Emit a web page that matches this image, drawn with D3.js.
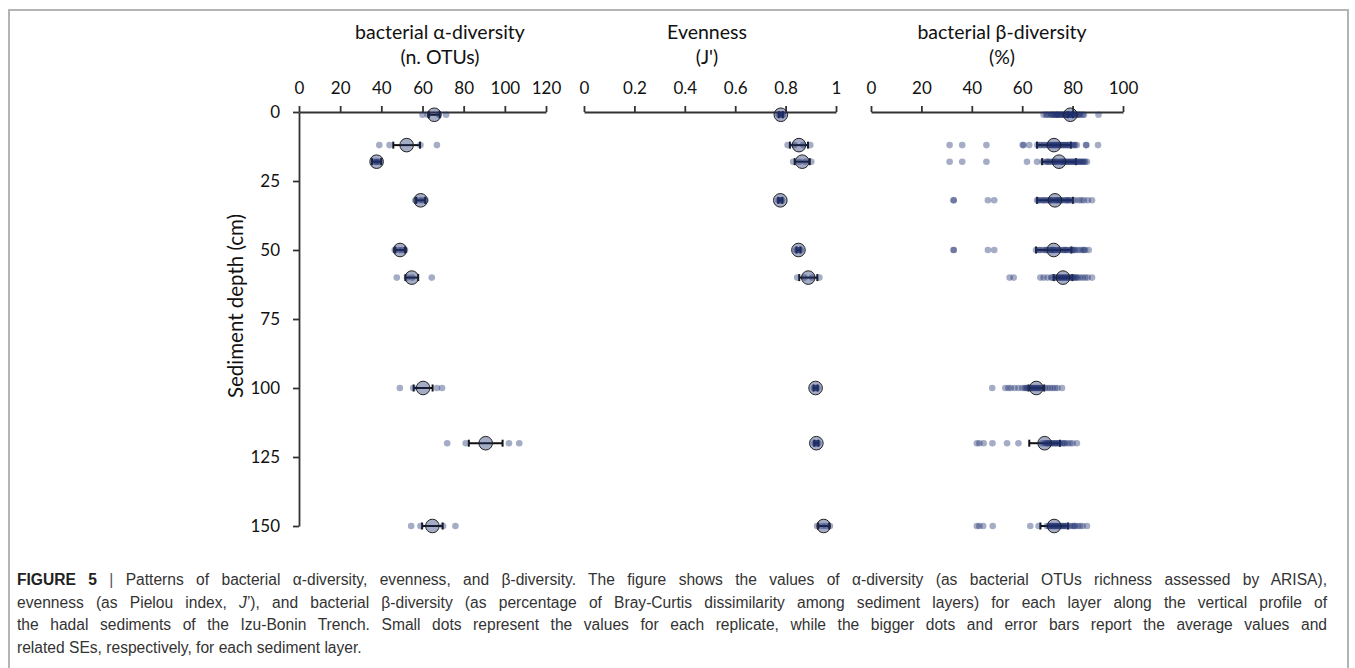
<!DOCTYPE html>
<html>
<head>
<meta charset="utf-8">
<script src="https://cdn.jsdelivr.net/npm/d3@7"></script>
<style>
  body { margin: 0; background: #fff; }
  svg { display: block; }
</style>
</head>
<body>
<div id="chart"></div>
<script>
// sediment layers (cm) and y ticks
const depths = [1, 12, 18, 32, 50, 60, 100, 120, 150];
const depthTicks = [0, 25, 50, 75, 100, 125, 150];

// bacterial alpha-diversity (n. OTUs)
const alphaTicks = [0, 20, 40, 60, 80, 100, 120];
const alphaMean = [65.7, 52.3, 37.7, 59.1, 49.1, 54.8, 60.3, 90.7, 64.8];
const alphaSE = [2.6, 6.5, 2.2, 2.2, 2.4, 3.1, 4.6, 8.2, 5.0];
const alphaReps = [
  [60, 62.5, 68, 71.5],
  [39, 44, 59, 67],
  [36.5, 37.5, 38, 39],
  [56.5, 58.5, 60, 61.5],
  [46.5, 48.5, 50, 51.5],
  [47.5, 52.5, 55, 64.5],
  [49, 55.5, 67, 69.5],
  [72, 81, 102, 107],
  [54.5, 59, 70, 76]
];

// evenness (J')
const evenTicks = [0, 0.2, 0.4, 0.6, 0.8, 1];
const evenMean = [0.781, 0.853, 0.866, 0.779, 0.851, 0.890, 0.919, 0.922, 0.951];
const evenSE = [0.008, 0.036, 0.03, 0.008, 0.008, 0.036, 0.008, 0.008, 0.022];
const evenReps = [
  [0.772, 0.778, 0.784, 0.79],
  [0.808, 0.835, 0.87, 0.898],
  [0.83, 0.855, 0.878, 0.902],
  [0.772, 0.777, 0.781, 0.786],
  [0.842, 0.848, 0.854, 0.86],
  [0.846, 0.875, 0.905, 0.934],
  [0.912, 0.917, 0.921, 0.926],
  [0.915, 0.92, 0.924, 0.929],
  [0.925, 0.945, 0.96, 0.976]
];

// bacterial beta-diversity (% Bray-Curtis)
const betaTicks = [0, 20, 40, 60, 80, 100];
const betaMean = [79.1, 72.6, 74.6, 73.0, 72.5, 76.2, 65.6, 68.9, 72.7];
const betaSE = [1.0, 6.7, 6.7, 7.1, 7.0, 3.7, 3.1, 6.1, 5.5];
const betaReps = [
  [68.5, 69.5, 70, 71, 71.5, 72, 72.5, 73, 73.5, 74, 74, 74.5, 75, 75.5, 76, 76.5, 77, 77, 77.5, 78, 78.5, 79, 79, 79.5, 80, 80.5, 81, 81.5, 82, 82.5, 83, 84, 84.5, 90.3],
  [31.2, 36.2, 45.8, 60.2, 60.5, 62.8, 66, 67, 67.5, 68.5, 69, 70, 70.5, 71, 71.5, 72, 72.5, 73, 73.5, 74, 74.5, 75, 75.5, 76, 76.5, 77, 77.5, 78, 78.5, 79, 80, 80.5, 81, 81.7, 85.3, 85.5, 90.1],
  [31.2, 36.2, 45.8, 61.9, 65.9, 68.2, 69.5, 70, 70.5, 71, 72, 72.5, 73, 73.5, 74, 75, 75.5, 76, 76.5, 77, 77.5, 78, 78.5, 79, 79.5, 80, 80.5, 81, 81.5, 82, 82.5, 83, 83.5, 84, 84.5, 85, 85.7],
  [32.8, 32.8, 46.4, 48.9, 65.9, 66.5, 67, 68, 68.5, 69, 70, 70.5, 71, 71.5, 72, 73, 73.5, 74, 74.5, 75, 75.5, 76, 77, 77.5, 78, 78.5, 79, 80, 81, 82.5, 83.5, 84.5, 86, 87.7],
  [32.8, 32.8, 46.4, 48.9, 65.5, 66.5, 67, 68, 69, 69.5, 70, 71, 71.5, 72, 72.5, 73, 74, 74.5, 75, 76, 76.5, 77, 77.5, 78, 79, 79.5, 80, 80.5, 81, 82, 83, 84, 84.5, 85, 86.4],
  [55.0, 56.6, 67.2, 68.5, 70, 71.5, 72, 73, 73.5, 74, 74.5, 75, 75.5, 76, 76.5, 77, 77.5, 78, 78.5, 79, 79.5, 80, 80.5, 81, 81.5, 82, 83, 84, 85, 86, 87.7],
  [48.1, 53.3, 54.5, 55.5, 57, 58.5, 60, 61, 61.5, 62, 62.5, 63, 63.5, 64, 64.5, 65, 65.5, 66, 66.5, 67, 67.5, 68, 69, 70, 71, 72, 73, 74, 75.8],
  [42, 43, 44.7, 48.2, 54, 58.5, 67.8, 69, 69.5, 70, 70.5, 71, 71.5, 72, 72.5, 73, 73.5, 74, 74.5, 75, 76, 76.5, 77, 78, 79, 80, 81.7],
  [42, 43, 44.5, 48.3, 63.2, 66.5, 69.8, 70.5, 71, 71.5, 72, 72.5, 73, 73.5, 74, 74.5, 75, 75.5, 76, 76.5, 77, 77.5, 78, 79, 80, 80.5, 81, 82, 83, 84, 85.7]
];

const captionLines = [
  "Patterns of bacterial \u03b1-diversity, evenness, and \u03b2-diversity. The figure shows the values of \u03b1-diversity (as bacterial OTUs richness assessed by ARISA),",
  "evenness (as Pielou index, |J|\u2019), and bacterial \u03b2-diversity (as percentage of Bray-Curtis dissimilarity among sediment layers) for each layer along the vertical profile of",
  "the hadal sediments of the Izu-Bonin Trench. Small dots represent the values for each replicate, while the bigger dots and error bars report the average values and",
  "related SEs, respectively, for each sediment layer."
];

const width = 1355, height = 668;
const font = "Lato, 'Open Sans', sans-serif";
const navy = "#1f2f6e";

const svg = d3.select("#chart").append("svg")
  .attr("width", width)
  .attr("height", height);

// frame
svg.append("path")
  .attr("d", "M9,668V10H1348V668")
  .attr("fill", "none")
  .attr("stroke", "#b4b4b4")
  .attr("stroke-width", 2);

const y = d3.scaleLinear().domain([0, 150]).range([112, 526]);

function panel(opt) {
  const x = d3.scaleLinear().domain(opt.domain).range(opt.range);
  const g = svg.append("g");

  g.append("g")
    .attr("transform", `translate(0,${y(0)})`)
    .call(d3.axisTop(x).tickValues(opt.ticks).tickSize(6).tickSizeOuter(0).tickPadding(12)
      .tickFormat(d3.format("~g")))
    .call(a => a.selectAll("path,line").attr("stroke", "#333").attr("stroke-width", 1.8))
    .call(a => a.selectAll("text").attr("font-family", font).attr("font-size", 17).attr("fill", "#111"));

  opt.title.forEach((t, i) => {
    g.append("text")
      .attr("x", opt.titleX)
      .attr("y", 39 + i * 25)
      .attr("text-anchor", "middle")
      .attr("font-family", font)
      .attr("font-size", 19.5)
      .attr("fill", "#111")
      .text(t);
  });

  const rows = depths.map((d, i) => ({ depth: d, mean: opt.mean[i], se: opt.se[i], reps: opt.reps[i] }));

  // error bars (SE)
  const eb = g.append("g")
    .attr("stroke", "#111")
    .attr("stroke-width", 2)
    .selectAll("g")
    .data(rows)
    .join("g")
    .attr("transform", d => `translate(0,${y(d.depth)})`);
  eb.append("line")
    .attr("x1", d => x(d.mean - d.se))
    .attr("x2", d => x(d.mean + d.se));
  eb.append("line")
    .attr("x1", d => x(d.mean - d.se)).attr("x2", d => x(d.mean - d.se))
    .attr("y1", -3.5).attr("y2", 3.5);
  eb.append("line")
    .attr("x1", d => x(d.mean + d.se)).attr("x2", d => x(d.mean + d.se))
    .attr("y1", -3.5).attr("y2", 3.5);

  // replicate dots
  g.append("g")
    .selectAll("circle")
    .data(rows.flatMap(r => r.reps.map(v => ({ depth: r.depth, v }))))
    .join("circle")
    .attr("cx", d => x(d.v))
    .attr("cy", d => y(d.depth))
    .attr("r", 3.3)
    .attr("fill", navy)
    .attr("fill-opacity", 0.4);

  // mean
  g.append("g")
    .selectAll("circle")
    .data(rows)
    .join("circle")
    .attr("cx", d => x(d.mean))
    .attr("cy", d => y(d.depth))
    .attr("r", 6.8)
    .attr("fill", navy)
    .attr("fill-opacity", 0.4)
    .attr("stroke", "#222")
    .attr("stroke-width", 1);

  return x;
}

panel({ domain: [0, 120], range: [299, 546], ticks: alphaTicks, title: ["bacterial \u03b1-diversity", "(n. OTUs)"],
  titleX: 440, mean: alphaMean, se: alphaSE, reps: alphaReps });
panel({ domain: [0, 1], range: [584, 836], ticks: evenTicks, title: ["Evenness", "(J')"],
  titleX: 707, mean: evenMean, se: evenSE, reps: evenReps });
panel({ domain: [0, 100], range: [871, 1123], ticks: betaTicks, title: ["bacterial \u03b2-diversity", "(%)"],
  titleX: 1002, mean: betaMean, se: betaSE, reps: betaReps });

// depth axis
svg.append("g")
  .attr("transform", "translate(299,0)")
  .call(d3.axisLeft(y).tickValues(depthTicks).tickSize(6).tickSizeOuter(0).tickPadding(13))
  .call(a => a.selectAll("path,line").attr("stroke", "#333").attr("stroke-width", 1.8))
  .call(a => a.selectAll("text").attr("font-family", font).attr("font-size", 17).attr("fill", "#111"));

svg.append("text")
  .attr("transform", "translate(243,306) rotate(-90)")
  .attr("text-anchor", "middle")
  .attr("font-family", font)
  .attr("font-size", 20.5)
  .attr("fill", "#111")
  .text("Sediment depth (cm)");

// caption, justified by word spacing
const cap = svg.append("g")
  .attr("font-family", "'Liberation Sans', Arial, sans-serif")
  .attr("font-size", 15.6)
  .attr("fill", "#333");

captionLines.forEach((line, i) => {
  const t = cap.append("text")
    .attr("x", 17)
    .attr("y", 585 + i * 22.7);
  let full = line.replace(/\|/g, "");
  if (i === 0) {
    t.append("tspan").attr("font-weight", "bold").attr("fill", "#222").text("FIGURE 5");
    t.append("tspan").attr("fill", "#555").text(" | ");
    full = "FIGURE 5 | " + full;
  }
  line.split("|").forEach((part, k) => {
    const s = t.append("tspan").text(part);
    if (k % 2 === 1) s.attr("font-style", "italic");
  });
  if (i < 3) {
    const natural = t.node().getComputedTextLength();
    const spaces = (full.match(/ /g) || []).length;
    t.attr("word-spacing", Math.max(0, (1310 - natural) / spaces));
  }
});
</script>
</body>
</html>
